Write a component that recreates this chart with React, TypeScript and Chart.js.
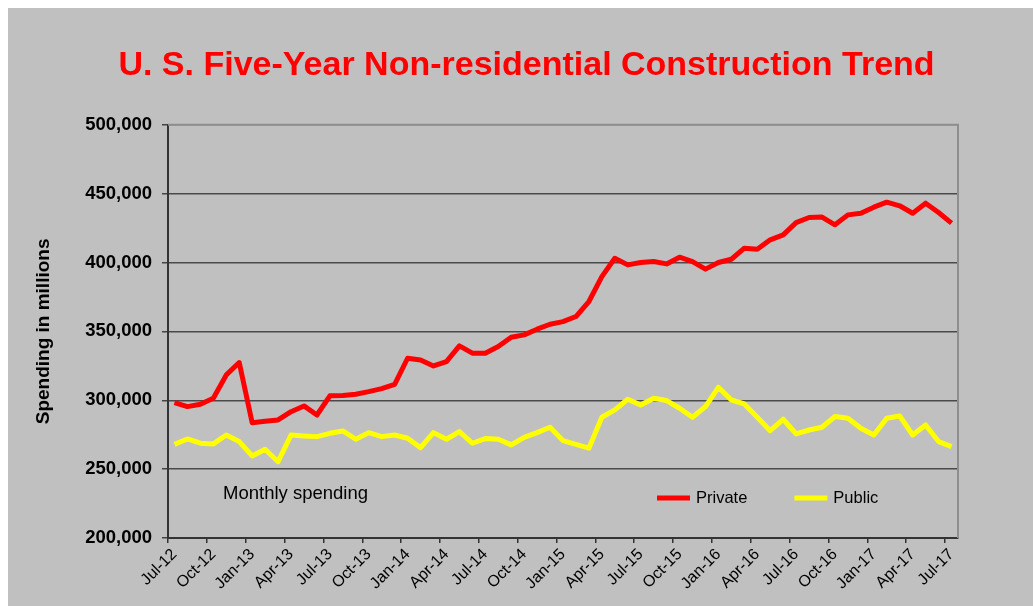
import React, { useEffect, useRef } from "react";
import { Chart, registerables } from "chart.js";

Chart.register(...registerables);

const months: string[] = [
  "Jul-12", "Aug-12", "Sep-12", "Oct-12", "Nov-12", "Dec-12",
  "Jan-13", "Feb-13", "Mar-13", "Apr-13", "May-13", "Jun-13", "Jul-13", "Aug-13", "Sep-13", "Oct-13", "Nov-13", "Dec-13",
  "Jan-14", "Feb-14", "Mar-14", "Apr-14", "May-14", "Jun-14", "Jul-14", "Aug-14", "Sep-14", "Oct-14", "Nov-14", "Dec-14",
  "Jan-15", "Feb-15", "Mar-15", "Apr-15", "May-15", "Jun-15", "Jul-15", "Aug-15", "Sep-15", "Oct-15", "Nov-15", "Dec-15",
  "Jan-16", "Feb-16", "Mar-16", "Apr-16", "May-16", "Jun-16", "Jul-16", "Aug-16", "Sep-16", "Oct-16", "Nov-16", "Dec-16",
  "Jan-17", "Feb-17", "Mar-17", "Apr-17", "May-17", "Jun-17", "Jul-17",
];

const privateSpending: number[] = [
  298300, 295400, 297100, 301500, 318400, 327400, 283700, 284800, 285700, 291700,
  295900, 289300, 303200, 303400, 304400, 306300, 308500, 311600, 330500, 329300,
  324900, 328100, 339500, 334200, 334200, 339000, 345800, 347500, 351600, 355200,
  357100, 360800, 371700, 389800, 403100, 398300, 400000, 400700, 399000, 403900,
  400700, 395200, 400000, 402400, 410400, 409700, 416500, 420100, 429000, 432700,
  433000, 427400, 434600, 435800, 440200, 443800, 441200, 435800, 443100, 436300,
  428600,
];

const publicSpending: number[] = [
  268000, 271900, 268800, 268300, 274800, 270000, 259600, 264400, 255400, 274800,
  274100, 273600, 276000, 277700, 271700, 276500, 273600, 274800, 272400, 265600,
  276500, 271700, 277300, 268800, 272200, 271700, 267600, 273100, 276500, 280400,
  270700, 268000, 265200, 287700, 293000, 300700, 296600, 301500, 299800, 294200,
  287700, 295400, 309400, 300200, 297300, 287700, 277900, 286200, 275600, 278400,
  280400, 288200, 287000, 279700, 274800, 287000, 288600, 274800, 282100, 270000,
  266400,
];

const seriesNames: string[] = ["Private", "Public"];
const seriesColors: string[] = ["#ff0000", "#ffff00"];
const titleText = "U. S. Five-Year Non-residential Construction Trend";
const yTitle = "Spending in millions";
const noteText = "Monthly spending";

const FONT = "'Liberation Sans', Arial, Helvetica, sans-serif";

const decorPlugin = {
  id: "decor",
  beforeDatasetsDraw(chart: any) {
    const { ctx, chartArea } = chart;
    ctx.save();
    ctx.strokeStyle = "#8e8e8e";
    ctx.lineWidth = 2;
    ctx.beginPath();
    ctx.moveTo(chartArea.left, chartArea.top);
    ctx.lineTo(chartArea.right, chartArea.top);
    ctx.lineTo(chartArea.right, chartArea.bottom);
    ctx.stroke();
    ctx.restore();
  },
  afterDraw(chart: any) {
    const { ctx, chartArea } = chart;
    ctx.save();
    ctx.fillStyle = "#000";
    ctx.textBaseline = "middle";
    ctx.textAlign = "left";
    ctx.font = `18.5px ${FONT}`;
    ctx.fillText(noteText, chartArea.left + 55, chartArea.bottom - 44);

    // legend
    ctx.font = `16.5px ${FONT}`;
    let x = chartArea.left + 489;
    const y = chartArea.bottom - 40;
    chart.data.datasets.forEach((ds: any) => {
      ctx.fillStyle = ds.borderColor;
      ctx.fillRect(x, y - 2.5, 33, 5);
      ctx.fillStyle = "#000";
      ctx.fillText(ds.label, x + 39, y);
      x += 39 + ctx.measureText(ds.label).width + 47;
    });
    ctx.restore();
  },
};

export default function App() {
  const ref = useRef<HTMLCanvasElement | null>(null);

  useEffect(() => {
    if (!ref.current) return;
    Chart.defaults.font.family = FONT;
    const chart = new Chart(ref.current, {
      type: "line",
      data: {
        labels: months,
        datasets: [
          {
            label: seriesNames[0],
            data: privateSpending,
            borderColor: seriesColors[0],
            backgroundColor: seriesColors[0],
            borderWidth: 5,
            pointRadius: 0,
            borderJoinStyle: "round",
            tension: 0,
            fill: false,
          },
          {
            label: seriesNames[1],
            data: publicSpending,
            borderColor: seriesColors[1],
            backgroundColor: seriesColors[1],
            borderWidth: 5,
            pointRadius: 0,
            borderJoinStyle: "round",
            tension: 0,
            fill: false,
          },
        ],
      },
      options: {
        responsive: false,
        animation: false,
        layout: { padding: { left: 12, right: 0, top: 0, bottom: 0 } },
        plugins: {
          legend: { display: false },
          tooltip: { enabled: false },
          title: {
            display: true,
            text: titleText,
            color: "#ff0000",
            font: { size: 34, weight: "bold", family: FONT },
            padding: { top: 37, bottom: 39 },
          },
        },
        scales: {
          x: {
            type: "category",
            offset: true,
            grid: {
              offset: true,
              drawOnChartArea: false,
              drawTicks: true,
              tickLength: 5,
              lineWidth: 1.5,
              color: (c: any) => (c.index % 3 === 0 ? "#333" : "rgba(0,0,0,0)"),
            },
            border: { color: "#333", width: 2 },
            ticks: {
              autoSkip: false,
              maxRotation: 45,
              minRotation: 45,
              padding: 2,
              color: "#000",
              font: { size: 16, family: FONT },
              callback: (_v: any, i: number) => (i % 3 === 0 ? months[i] : ""),
            },
            afterFit: (s: any) => {
              s.height = 68;
            },
          },
          y: {
            type: "linear",
            min: 200000,
            max: 500000,
            grid: {
              color: (c: any) => (c.tick && c.tick.value === 500000 ? "#8e8e8e" : "#4a4a4a"),
              tickColor: "#444",
              lineWidth: 1.5,
              tickLength: 6,
            },
            border: { color: "#333", width: 2 },
            ticks: {
              stepSize: 50000,
              padding: 10,
              color: "#000",
              font: { size: 18.5, weight: "bold", family: FONT },
              callback: (v: any) => Number(v).toLocaleString("en-US"),
            },
            title: {
              display: true,
              text: yTitle,
              color: "#000",
              font: { size: 19, weight: "bold", family: FONT },
              padding: { top: 12.6, bottom: 0 },
            },
            afterFit: (s: any) => {
              s.width = 148;
            },
          },
          y2: {
            type: "linear",
            position: "right",
            display: true,
            grid: { display: false, drawTicks: false },
            border: { display: false },
            ticks: { display: false },
            afterFit: (s: any) => {
              s.width = 75;
            },
          },
        },
      },
      plugins: [decorPlugin],
    } as any);
    return () => chart.destroy();
  }, []);

  return (
    <div
      style={{
        position: "absolute",
        left: 8,
        top: 8,
        width: 1025,
        height: 598,
        background: "#c0c0c0",
      }}
    >
      <canvas ref={ref} width={1025} height={598} style={{ display: "block" }} />
    </div>
  );
}
